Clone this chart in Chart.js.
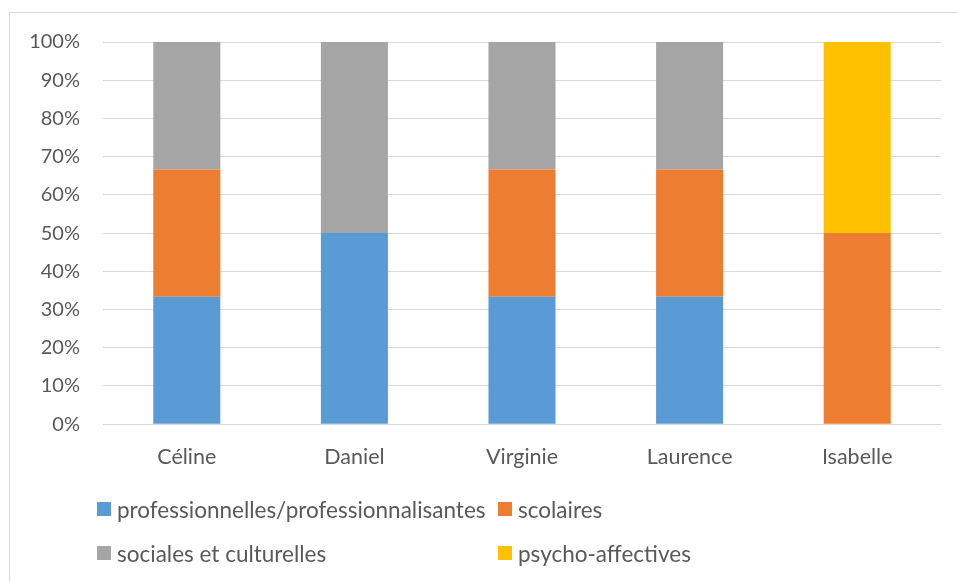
<!DOCTYPE html>
<html>
<head>
<meta charset="utf-8">
<script src="https://cdn.jsdelivr.net/npm/chart.js@4"></script>
<style>
  html, body { margin: 0; padding: 0; background: #fff; }
  body { width: 958px; height: 582px; position: relative; overflow: hidden; font-family: Lato, "Open Sans", sans-serif; }
  #frame { position: absolute; left: 9px; top: 12px; width: 960px; height: 600px; border: 1px solid #d9d9d9; box-sizing: border-box; }
  #wrap { position: absolute; left: 0; top: 0; width: 958px; height: 582px; }
  #legend { position: absolute; left: 97px; top: 0; width: 800px; color: #595959; font-size: 22.5px; }
  .item { position: absolute; white-space: nowrap; display: flex; align-items: center; height: 30px; }
  .box { display: inline-block; width: 14px; height: 14px; margin-right: 6px; }
</style>
</head>
<body>
<div id="frame"></div>
<div id="wrap"><canvas id="chart"></canvas></div>
<div id="legend"></div>
<script>
// Data
const persons = ["Céline", "Daniel", "Virginie", "Laurence", "Isabelle"];
const professionnelles = [33.33, 50, 33.33, 33.33, 0];
const scolaires = [33.33, 0, 33.33, 33.33, 50];
const sociales = [33.34, 50, 33.34, 33.34, 0];
const psycho = [0, 0, 0, 0, 50];
const yTicks = [0, 10, 20, 30, 40, 50, 60, 70, 80, 90, 100];

const series = [
  { label: "professionnelles/professionnalisantes", data: professionnelles, color: "#5b9bd5" },
  { label: "scolaires", data: scolaires, color: "#ed7d31" },
  { label: "sociales et culturelles", data: sociales, color: "#a5a5a5" },
  { label: "psycho-affectives", data: psycho, color: "#ffc000" }
];

const ctx = document.getElementById('chart').getContext('2d');
new Chart(ctx, {
  type: 'bar',
  data: {
    labels: persons,
    datasets: series.map(s => ({
      label: s.label,
      data: s.data,
      backgroundColor: s.color,
      borderWidth: 0,
      barPercentage: 0.4,
      categoryPercentage: 1
    }))
  },
  options: {
    responsive: true,
    maintainAspectRatio: false,
    animation: false,
    layout: { padding: { left: 10, right: 17, top: 42, bottom: 100 } },
    plugins: { legend: { display: false }, tooltip: { enabled: false } },
    scales: {
      x: {
        stacked: true,
        grid: { display: false },
        border: { display: false },
        ticks: { color: '#595959', font: { family: 'Lato', size: 21.5 }, padding: 12 }
      },
      y: {
        stacked: true,
        min: 0,
        max: 100,
        afterFit: s => { s.width = 93; },
        afterBuildTicks: s => { s.ticks = yTicks.map(v => ({ value: v })); },
        grid: { color: '#d9d9d9', lineWidth: 1, drawTicks: false },
        border: { display: false },
        ticks: {
          color: '#595959',
          font: { family: 'Lato', size: 20 },
          padding: 23,
          callback: v => v + '%'
        }
      }
    }
  }
});

// legend in two columns like the original
const legend = document.getElementById('legend');
series.forEach((s, i) => {
  const el = document.createElement('div');
  el.className = 'item';
  el.style.left = (i % 2 ? 401 : 0) + 'px';
  el.style.top = (494 + Math.floor(i / 2) * 44) + 'px';
  el.innerHTML = '<span class="box" style="background:' + s.color + '"></span>' + s.label;
  legend.appendChild(el);
});
</script>
</body>
</html>
